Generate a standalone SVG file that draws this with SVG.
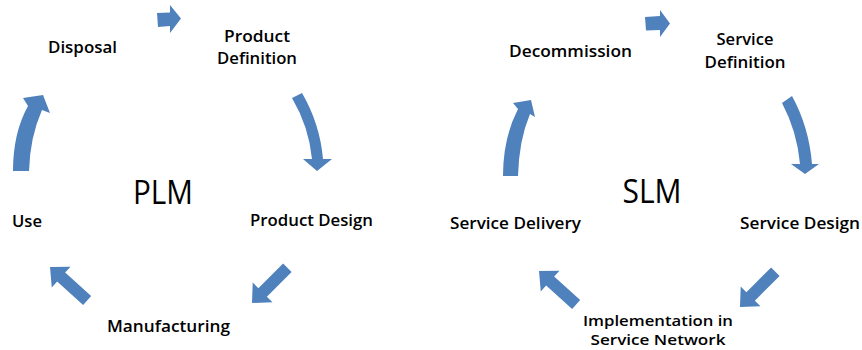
<svg xmlns="http://www.w3.org/2000/svg" width="862" height="350" viewBox="0 0 862 350">
<style>
.lbl{font-family:"Open Sans","Liberation Sans",sans-serif;font-weight:600;font-size:16.5px;fill:#000}
.sm{font-size:14.5px}
.ttl{font-family:"Open Sans","Liberation Sans",sans-serif;font-weight:400;font-size:32px;fill:#000}
.arr{fill:#4F81BD;stroke:none}
</style>
<defs>
<polygon id="straight" points="0,0 -15,-14 -15,-6 -50,-6 -50,6 -15,6 -15,14"/>
</defs>
<rect width="862" height="350" fill="#fff"/>
<g id="connectors">
<!-- PLM -->
<polygon class="arr" points="157,13 170,12.5 170,5 181,18.5 170,33 170,26 158,27"/>
<path class="arr" d="M292,98 L302,93 Q320,124 323,159 L332,159 L317,171 L303,159 L312,159 Q309,127 292,98 Z"/>
<use href="#straight" class="arr" transform="translate(252,303) rotate(135)"/>
<use href="#straight" class="arr" transform="translate(50,267) rotate(222)"/>
<path class="arr" d="M13,171 Q13,133 28,106 L23,98 L43,95 L50,113 L42,110 Q30,137 29,171 Z"/>
<!-- SLM -->
<polygon class="arr" points="645,17 660,16 660,10 670,23.5 660,37 660,30 646,30.5"/>
<path class="arr" d="M782,103 L792,96 Q809,127 812,164 L819,164 L805,174 L791,164 L800,164 Q797,131 782,103 Z"/>
<use href="#straight" class="arr" transform="translate(740,307) rotate(135)"/>
<use href="#straight" class="arr" transform="translate(539,271) rotate(222)"/>
<path class="arr" d="M503,176 Q503,138 518,109 L513,103 L531,100 L535,117 L530,114 Q519,140 518,176 Z"/>
</g>
<g id="plm-title"><text class="ttl" x="163" y="204" text-anchor="middle" textLength="60" lengthAdjust="spacingAndGlyphs">PLM</text></g>
<g id="product-definition">
<text class="lbl" x="257" y="42" text-anchor="middle" textLength="66" lengthAdjust="spacingAndGlyphs">Product</text>
<text class="lbl" x="257" y="64" text-anchor="middle" textLength="80" lengthAdjust="spacingAndGlyphs">Definition</text>
</g>
<g id="product-design"><text class="lbl" x="250" y="226" textLength="123" lengthAdjust="spacingAndGlyphs">Product Design</text></g>
<g id="manufacturing"><text class="lbl" x="107" y="332" textLength="123" lengthAdjust="spacingAndGlyphs">Manufacturing</text></g>
<g id="use"><text class="lbl" x="12" y="227" textLength="30" lengthAdjust="spacingAndGlyphs">Use</text></g>
<g id="disposal"><text class="lbl" x="48" y="53" textLength="69" lengthAdjust="spacingAndGlyphs">Disposal</text></g>
<g id="slm-title"><text class="ttl" x="652" y="203" text-anchor="middle" textLength="59" lengthAdjust="spacingAndGlyphs">SLM</text></g>
<g id="service-definition">
<text class="lbl" x="745" y="45" text-anchor="middle" textLength="57" lengthAdjust="spacingAndGlyphs">Service</text>
<text class="lbl" x="745" y="68" text-anchor="middle" textLength="81" lengthAdjust="spacingAndGlyphs">Definition</text>
</g>
<g id="service-design"><text class="lbl" x="740" y="229" textLength="120" lengthAdjust="spacingAndGlyphs">Service Design</text></g>
<g id="implementation">
<text class="lbl sm" x="658" y="326" text-anchor="middle" textLength="150" lengthAdjust="spacingAndGlyphs">Implementation in</text>
<text class="lbl sm" x="658" y="345" text-anchor="middle" textLength="135" lengthAdjust="spacingAndGlyphs">Service Network</text>
</g>
<g id="service-delivery"><text class="lbl" x="450" y="229" textLength="131" lengthAdjust="spacingAndGlyphs">Service Delivery</text></g>
<g id="decommission"><text class="lbl" x="509" y="57" textLength="123" lengthAdjust="spacingAndGlyphs">Decommission</text></g>
</svg>
